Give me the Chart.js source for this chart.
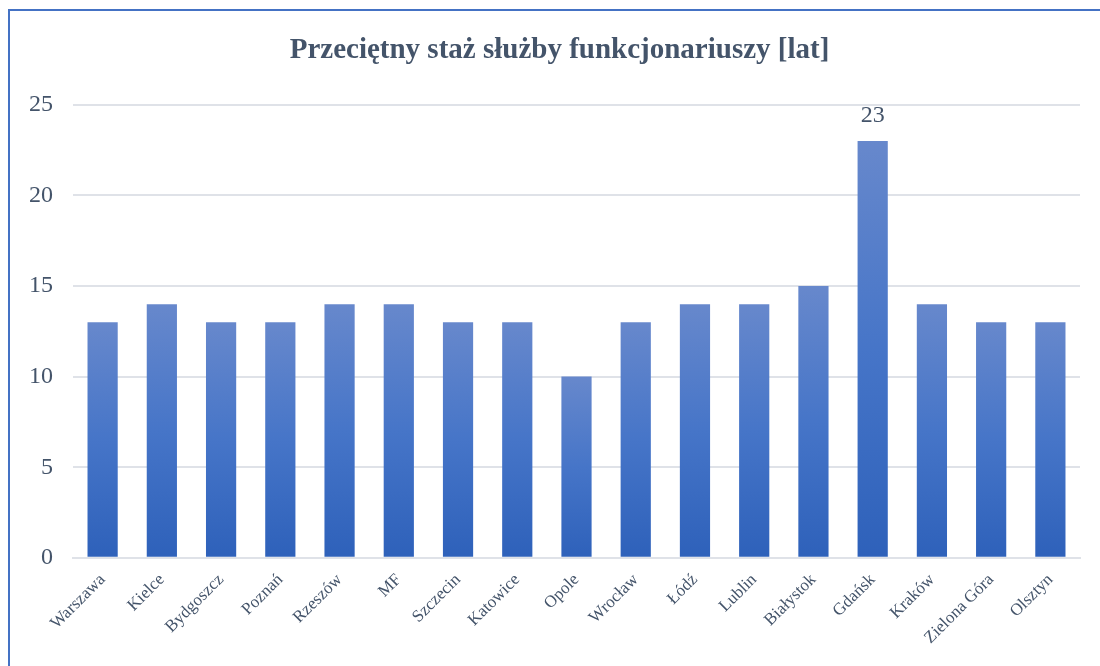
<!DOCTYPE html>
<html>
<head>
<meta charset="utf-8">
<script src="https://cdn.jsdelivr.net/npm/chart.js@4"></script>
<style>
  html, body { margin: 0; padding: 0; background: #fff; overflow: hidden; }
  .frame {
    position: absolute;
    left: 8px;
    top: 9px;
    width: 1200px;
    height: 800px;
    border-left: 2px solid #4472c4;
    border-top: 2px solid #4472c4;
  }
  .box { position: absolute; left: 0; top: 0; width: 1090px; height: 655px; }
</style>
</head>
<body>
<div class="frame">
  <div class="box"><canvas id="barChart"></canvas></div>
</div>
<script>
const cities = [
  "Warszawa", "Kielce", "Bydgoszcz", "Poznań", "Rzeszów", "MF", "Szczecin",
  "Katowice", "Opole", "Wrocław", "Łódź", "Lublin", "Białystok", "Gdańsk",
  "Kraków", "Zielona Góra", "Olsztyn",
];
const serviceYears = [13, 14, 13, 13, 14, 14, 13, 13, 10, 13, 14, 14, 15, 23, 14, 13, 13];
const shownLabels = [null, null, null, null, null, null, null, null, null, null, null, null, null, "23", null, null, null];
const yTicks = [0, 5, 10, 15, 20, 25];

const textColor = "#44546a";
const serif = "'Liberation Serif', 'Times New Roman', serif";

// gradient per bar, light at the top, darker at the base
function barGradient(context) {
  const chart = context.chart;
  if (!chart.chartArea || !chart.scales.y) return "#4472c4";
  const top = chart.scales.y.getPixelForValue(context.raw);
  const base = chart.scales.y.getPixelForValue(0);
  const g = chart.ctx.createLinearGradient(0, top, 0, base);
  g.addColorStop(0, "#6788cc");
  g.addColorStop(0.5, "#4675c8");
  g.addColorStop(1, "#2e61ba");
  return g;
}

const valueLabels = {
  id: "valueLabels",
  afterDatasetsDraw(chart) {
    const ctx = chart.ctx;
    const meta = chart.getDatasetMeta(0);
    ctx.save();
    ctx.font = "24px " + serif;
    ctx.fillStyle = textColor;
    ctx.textAlign = "center";
    ctx.textBaseline = "alphabetic";
    meta.data.forEach((bar, i) => {
      if (shownLabels[i] === null) return;
      ctx.fillText(shownLabels[i], bar.x, bar.y - 19);
    });
    ctx.restore();
  },
};

const barChart = new Chart(document.getElementById("barChart"), {
  type: "bar",
  data: {
    labels: cities,
    datasets: [
      {
        label: "Przeciętny staż służby",
        data: serviceYears,
        backgroundColor: barGradient,
        borderWidth: 0,
        barPercentage: 0.51,
        categoryPercentage: 1,
      },
    ],
  },
  options: {
    responsive: true,
    maintainAspectRatio: false,
    animation: false,
    layout: {
      padding: { left: 19, right: 10, top: 0, bottom: 14 },
    },
    plugins: {
      legend: { display: false },
      tooltip: { enabled: false },
      title: {
        display: true,
        text: "Przeciętny staż służby funkcjonariuszy [lat]",
        color: textColor,
        font: { family: serif, size: 29, weight: "bold" },
        padding: { top: 22, bottom: 37 },
      },
    },
    scales: {
      x: {
        grid: { display: false },
        border: { display: true, color: "#dfe2e8", width: 2 },
        afterFit: (scale) => {
          // keep the plot off the right edge without moving the title
          scale.paddingLeft = 0;
          scale.paddingRight = 20;
        },
        ticks: {
          color: textColor,
          font: { family: serif, size: 17 },
          maxRotation: 45,
          minRotation: 45,
          autoSkip: false,
          padding: 4,
        },
      },
      y: {
        min: yTicks[0],
        max: yTicks[yTicks.length - 1],
        grid: { color: "#dfe2e8", lineWidth: 2, drawTicks: false },
        border: { display: false },
        afterFit: (scale) => {
          // chart.js reserves the tick padding twice, drop the outer half
          scale.width -= scale.options.ticks.padding;
        },
        ticks: {
          stepSize: yTicks[1] - yTicks[0],
          color: textColor,
          font: { family: serif, size: 24 },
          padding: 20,
        },
      },
    },
  },
  plugins: [valueLabels],
});
</script>
</body>
</html>
